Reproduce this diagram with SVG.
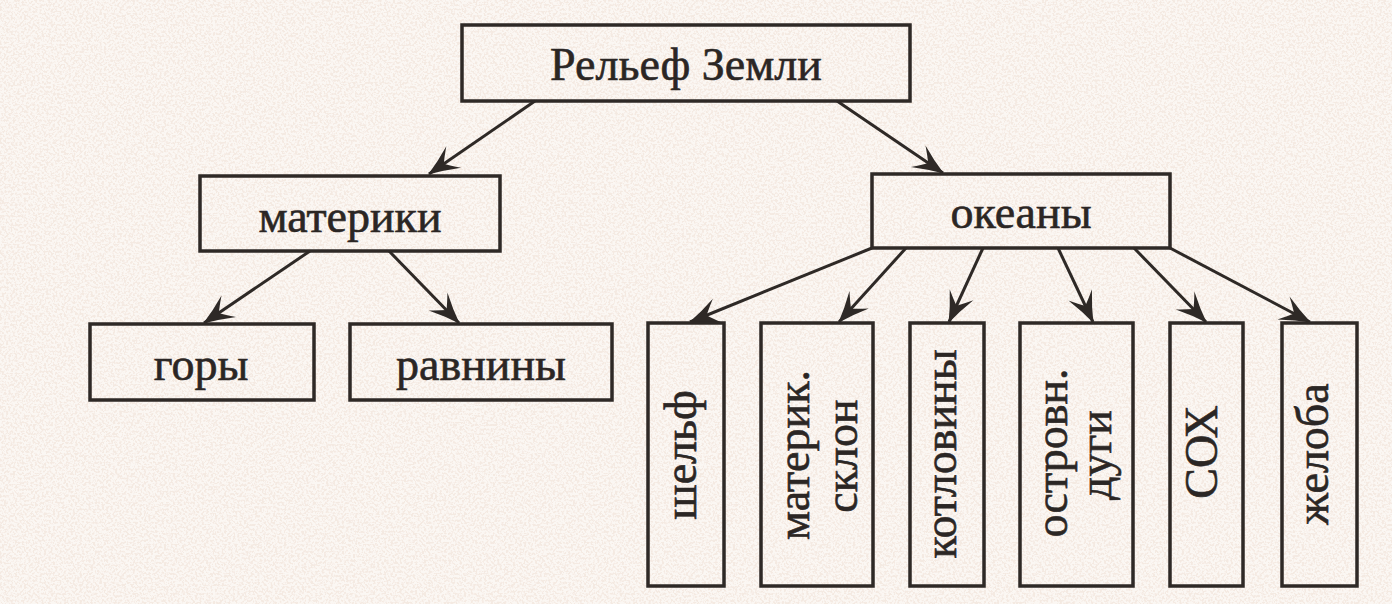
<svg xmlns="http://www.w3.org/2000/svg" width="1392" height="604" viewBox="0 0 1392 604">
<style>
.box{fill:none;stroke:#2e2926;stroke-width:3.5}
.lbl{font-family:"Liberation Serif","Times New Roman",serif;font-size:46px;fill:#2b2624;stroke:#2b2624;stroke-width:0.6;text-anchor:middle}
.con{stroke:#2e2926;stroke-width:3;fill:none;marker-end:url(#ah)}
</style>
<defs>
<marker id="ah" markerUnits="userSpaceOnUse" markerWidth="36" markerHeight="30" viewBox="-32 -15 34 30" refX="0" refY="0" orient="auto">
<path d="M1,0 Q-14,-5 -30,-13 Q-22,-5 -18,0 Q-22,5 -30,13 Q-14,5 1,0 Z" fill="#2e2926"/>
</marker>
<filter id="speck" x="0" y="0" width="100%" height="100%">
<feTurbulence type="fractalNoise" baseFrequency="0.45" numOctaves="2" seed="7"/>
<feColorMatrix type="matrix" values="0 0 0 0 0.90  0 0 0 0 0.80  0 0 0 0 0.74  6 0 0 0 -2.7"/>
</filter>
</defs>
<rect width="1392" height="604" fill="#fbf7f3"/>
<rect width="1392" height="604" filter="url(#speck)" opacity="0.8"/>
<g id="connectors">
<line class="con" x1="535" y1="101" x2="429" y2="174"/>
<line class="con" x1="837" y1="101" x2="943" y2="173"/>
<line class="con" x1="310" y1="251" x2="204" y2="323"/>
<line class="con" x1="389" y1="251" x2="459" y2="323"/>
<line class="con" x1="872" y1="248" x2="690" y2="322"/>
<line class="con" x1="906" y1="248" x2="839" y2="322"/>
<line class="con" x1="983" y1="248" x2="949" y2="322"/>
<line class="con" x1="1058" y1="248" x2="1093" y2="322"/>
<line class="con" x1="1134" y1="248" x2="1206" y2="322"/>
<line class="con" x1="1170" y1="248" x2="1310" y2="322"/>
</g>
<g id="relief">
<rect class="box" x="462" y="25" width="448" height="76"/>
<text class="lbl" x="686" y="80">Рельеф Земли</text>
</g>
<g id="materiki">
<rect class="box" x="200" y="176" width="300" height="75"/>
<text class="lbl" x="350" y="232">материки</text>
</g>
<g id="okeany">
<rect class="box" x="872" y="174" width="298" height="74"/>
<text class="lbl" x="1021" y="228">океаны</text>
</g>
<g id="gory">
<rect class="box" x="90" y="324" width="224" height="76"/>
<text class="lbl" x="201" y="380">горы</text>
</g>
<g id="ravniny">
<rect class="box" x="350" y="324" width="262" height="76"/>
<text class="lbl" x="481" y="380">равнины</text>
</g>
<g id="shelf">
<rect class="box" x="648" y="323" width="76" height="263"/>
<text class="lbl" transform="translate(696,455) rotate(-90)">шельф</text>
</g>
<g id="sklon">
<rect class="box" x="761" y="323" width="112" height="263"/>
<text class="lbl" transform="translate(809,455) rotate(-90)">материк.</text>
<text class="lbl" transform="translate(857,456) rotate(-90)">склон</text>
</g>
<g id="kotloviny">
<rect class="box" x="910" y="323" width="74" height="263"/>
<text class="lbl" transform="translate(956,454) rotate(-90)">котловины</text>
</g>
<g id="dugi">
<rect class="box" x="1020" y="323" width="113" height="263"/>
<text class="lbl" transform="translate(1067,453) rotate(-90)">островн.</text>
<text class="lbl" transform="translate(1111,455) rotate(-90)">дуги</text>
</g>
<g id="sox">
<rect class="box" x="1170" y="323" width="73" height="263"/>
<text class="lbl" transform="translate(1217,452) rotate(-90)">СОХ</text>
</g>
<g id="zheloba">
<rect class="box" x="1282" y="323" width="75" height="263"/>
<text class="lbl" transform="translate(1328,454) rotate(-90)">желоба</text>
</g>
</svg>
